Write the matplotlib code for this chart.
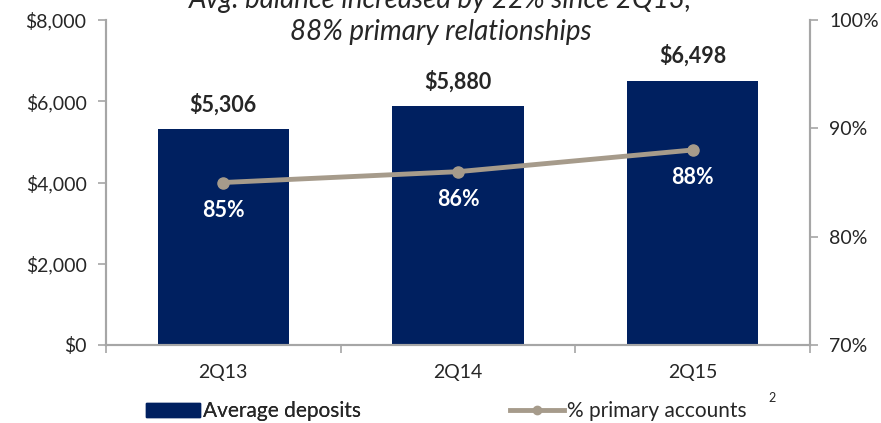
import matplotlib
matplotlib.use("Agg")
import matplotlib.pyplot as plt
from matplotlib.lines import Line2D
from matplotlib.patches import Patch

# quarterly deposit data
quarters = ["2Q13", "2Q14", "2Q15"]
avg_deposits = [5306, 5880, 6498]
primary_pct = [85, 86, 88]
deposit_labels = ["$5,306", "$5,880", "$6,498"]
pct_labels = ["85%", "86%", "88%"]

left_ticks = [0, 2000, 4000, 6000, 8000]
left_ticklabels = ["$0", "$2,000", "$4,000", "$6,000", "$8,000"]
right_ticks = [70, 80, 90, 100]
right_ticklabels = ["70%", "80%", "90%", "100%"]

navy = "#002060"
taupe = "#A69B8B"
grey = "#A6A6A6"
txt = "#262626"

plt.rcParams["font.family"] = ["Lato", "DejaVu Sans"]

fig = plt.figure(figsize=(8.81, 4.23), dpi=100)
ax = fig.add_axes([0.1203, 0.1844, 0.7991, 0.7683])
ax2 = ax.twinx()

x = list(range(len(quarters)))
ax.bar(x, avg_deposits, width=0.56, color=navy, zorder=2)
ax.set_xlim(-0.5, 2.5)
ax.set_ylim(0, 8000)
ax.set_yticks(left_ticks)
ax.set_yticklabels(left_ticklabels)
ax.set_xticks(x)
ax.set_xticklabels(quarters)
ax.set_xticks([-0.5, 0.5, 1.5, 2.5], minor=True)
ax.tick_params(axis="x", which="major", length=0, pad=14, labelsize=14, labelcolor=txt)
ax.tick_params(axis="x", which="minor", length=6, color=grey, width=1.2)
ax.tick_params(axis="y", length=6, color=grey, width=1.2, labelsize=14, labelcolor=txt, pad=8)

for i, v in enumerate(avg_deposits):
    ax.annotate(deposit_labels[i], (i, v), xytext=(0, 10), textcoords="offset points",
                ha="center", va="bottom", fontsize=15.5, fontweight="bold", color=txt)

ax2.plot(x, primary_pct, color=taupe, lw=3.5, marker="o", ms=8, zorder=3)
ax2.set_ylim(70, 100)
ax2.set_yticks(right_ticks)
ax2.set_yticklabels(right_ticklabels)
ax2.tick_params(axis="y", length=6, color=grey, width=1.2, labelsize=14, labelcolor=txt, pad=8)

for i, p in enumerate(primary_pct):
    ax2.annotate(pct_labels[i], (i, p), xytext=(0, -20), textcoords="offset points",
                 ha="center", va="center", fontsize=15.5, fontweight="bold", color="white")

for a in (ax, ax2):
    a.spines["top"].set_visible(False)
    for s in ("left", "right", "bottom"):
        a.spines[s].set_color(grey)
        a.spines[s].set_linewidth(1.5)

# headline, first line runs off the top edge
fig.text(0.5, 1.0, "Avg. balance increased by 22% since 2Q13,", ha="center", va="center",
         fontsize=20, style="italic", color=txt)
fig.text(0.5, 0.925, "88% primary relationships", ha="center", va="center",
         fontsize=20, style="italic", color=txt)

leg_kw = dict(frameon=False, fontsize=15, handlelength=2.6, handletextpad=0.15,
              borderpad=0, borderaxespad=0, labelcolor=txt, loc="center left")
leg1 = fig.legend([Patch(facecolor=navy, edgecolor=navy)], ["Average deposits"],
                  bbox_to_anchor=(146 / 881, 0.028), **leg_kw)
fig.legend([Line2D([0], [0], color=taupe, lw=3.5, marker="o", ms=6)], ["% primary accounts"],
           bbox_to_anchor=(510 / 881, 0.028), **leg_kw)
fig.add_artist(leg1)
fig.text(0.872, 0.06, "2", fontsize=9, color=txt, ha="left", va="center")

fig.savefig("out.png", dpi=100)
